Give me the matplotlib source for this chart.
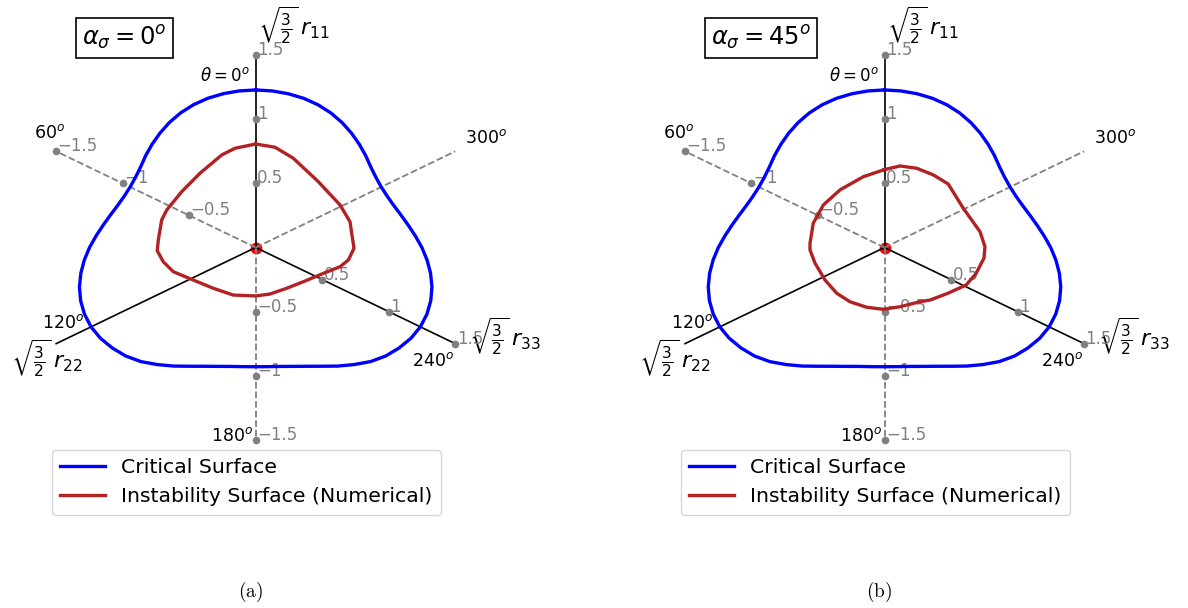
import numpy as np
import matplotlib
matplotlib.use("Agg")
import matplotlib.pyplot as plt

# ---------------------------------------------------------------------------
# Data
# ---------------------------------------------------------------------------
# Lode angle (deg), measured counter-clockwise from the r11 axis
theta_deg = np.arange(0, 360, 5)

# Critical surface radius in the deviatoric plane (same for both cases)
critical_r = [1.229, 1.226, 1.218, 1.205, 1.185, 1.158, 1.125, 1.088, 1.050, 1.013, 0.978, 0.955,
              0.944, 0.945, 0.957, 0.979, 1.008, 1.043, 1.082, 1.120, 1.156, 1.188, 1.213, 1.230,
              1.238, 1.234, 1.219, 1.197, 1.162, 1.115, 1.068, 1.022, 0.986, 0.960, 0.942, 0.933,
              0.930, 0.933, 0.942, 0.960, 0.986, 1.022, 1.068, 1.115, 1.162, 1.197, 1.219, 1.234,
              1.238, 1.230, 1.213, 1.188, 1.156, 1.120, 1.082, 1.043, 1.008, 0.979, 0.957, 0.945,
              0.944, 0.955, 0.978, 1.013, 1.050, 1.088, 1.125, 1.158, 1.185, 1.205, 1.218, 1.226]

# Numerical instability surface, alpha_sigma = 0 deg (deviatoric-plane x, y)
inst0_x = [0.000, -0.135, -0.221, -0.363, -0.482, -0.579, -0.612, -0.634, -0.641, -0.602,
           -0.536, -0.406, -0.276, -0.146, 0.000, 0.093, 0.202, 0.310, 0.430, 0.549,
           0.603, 0.640, 0.625, 0.614, 0.549, 0.408, 0.245, 0.126]
inst0_y = [0.807, 0.774, 0.722, 0.579, 0.435, 0.293, 0.215, 0.059, -0.025, -0.111,
           -0.189, -0.254, -0.318, -0.371, -0.378, -0.363, -0.318, -0.267, -0.207, -0.150,
           -0.098, -0.006, 0.111, 0.201, 0.332, 0.513, 0.696, 0.782]

# Numerical instability surface, alpha_sigma = 45 deg
inst45_x = [0.000, 0.101, 0.210, 0.318, 0.415, 0.513, 0.622, 0.654, 0.648, 0.596,
            0.531, 0.413, 0.296, 0.231, 0.101, -0.008, -0.116, -0.225, -0.311, -0.387,
            -0.452, -0.485, -0.485, -0.464, -0.398, -0.290, -0.138]
inst45_y = [0.608, 0.636, 0.618, 0.566, 0.495, 0.306, 0.123, 0.006, -0.082, -0.203,
            -0.293, -0.357, -0.410, -0.423, -0.462, -0.482, -0.466, -0.423, -0.357, -0.254,
            -0.123, -0.020, 0.033, 0.189, 0.332, 0.449, 0.552]

# Axis ticks
tick_values = [0.5, 1.0, 1.5]
tick_labels_pos = ["0.5", "1", "1.5"]
tick_labels_neg = ["\u22120.5", "\u22121", "\u22121.5"]

axis_length = 1.5
panel_titles = [r"$\alpha_\sigma = 0^o$", r"$\alpha_\sigma = 45^o$"]
panel_captions = [r"$(\mathrm{a})$", r"$(\mathrm{b})$"]
legend_labels = ["Critical Surface", "Instability Surface (Numerical)"]

# ---------------------------------------------------------------------------
# Layout (pixels of the 1188 x 608 canvas)
# ---------------------------------------------------------------------------
W, H = 1188, 608
SX, SY = 153.6, 128.2          # pixels per unit along x and y
CY = 247.5                     # origin row (from top)
panels = [dict(cx=255.7, x0=0, x1=600), dict(cx=884.5, x0=600, x1=1188)]

GRAY = "#808080"


def direction(theta):
    t = np.deg2rad(theta)
    return -np.sin(t), np.cos(t)


def draw_panel(ax, inst_x, inst_y, title):
    ax.axis("off")

    # solid positive axes r11, r22, r33
    for th in (0, 120, 240):
        dx, dy = direction(th)
        ax.plot([0, axis_length * dx], [0, axis_length * dy], color="black", lw=1.2, zorder=3)
    # dashed negative axes
    for th in (60, 180, 300):
        dx, dy = direction(th)
        ax.plot([0, axis_length * dx], [0, axis_length * dy], color=GRAY, lw=1.3,
                ls="--", zorder=3)

    # origin
    ax.plot([0], [0], "o", color="red", ms=7.5, zorder=2)

    # tick dots and labels on r11 / r33 axes (positive and negative)
    for th, labels in ((0, tick_labels_pos), (240, tick_labels_pos),
                       (180, tick_labels_neg), (60, tick_labels_neg)):
        dx, dy = direction(th)
        for v, lab in zip(tick_values, labels):
            ax.plot([v * dx], [v * dy], "o", color=GRAY, ms=4.5, zorder=4)
            ax.text(v * dx + 0.01, v * dy, lab, color=GRAY, fontsize=12,
                    ha="left", va="baseline", zorder=5)

    # surfaces
    th = np.deg2rad(np.append(theta_deg, theta_deg[0]))
    r = np.append(critical_r, critical_r[0])
    ax.plot(-r * np.sin(th), r * np.cos(th), color="blue", lw=2.4, zorder=6,
            label=legend_labels[0], solid_joinstyle="round")
    ax.plot(np.append(inst_x, inst_x[0]), np.append(inst_y, inst_y[0]),
            color="firebrick", lw=2.4, zorder=6, label=legend_labels[1])

    # angle labels
    ax.text(-0.037, 1.334, r"$\theta = 0^o$", fontsize=12, ha="right", va="center")
    ax.text(-1.339, 0.893, r"$60^o$", fontsize=12.5, ha="center", va="center")
    ax.text(-1.255, -0.589, r"$120^o$", fontsize=12.5, ha="center", va="center")
    ax.text(-0.016, -1.470, r"$180^o$", fontsize=12.5, ha="right", va="center")
    ax.text(1.291, -0.885, r"$240^o$", fontsize=12.5, ha="right", va="center")
    ax.text(1.363, 0.858, r"$300^o$", fontsize=12.5, ha="left", va="center")

    # axis names
    ax.text(0.015, 1.728, r"$\sqrt{\frac{3}{2}}\,r_{11}$", fontsize=16, ha="left", va="center")
    ax.text(-1.363, -0.870, r"$\sqrt{\frac{3}{2}}\,r_{22}$", fontsize=16, ha="center", va="center")
    ax.text(1.623, -0.698, r"$\sqrt{\frac{3}{2}}\,r_{33}$", fontsize=16, ha="center", va="center")

    # case label
    ax.text(-1.128, 1.634, title, fontsize=17.5, ha="left", va="center",
            bbox=dict(boxstyle="square,pad=0.25", fc="white", ec="black", lw=1.2))

    ax.legend(loc="upper left", bbox_to_anchor=(-1.326, -1.580),
              bbox_transform=ax.transData, borderaxespad=0, fontsize=14.7,
              handlelength=2.2)


fig = plt.figure(figsize=(W / 100, H / 100), dpi=100)
inst_sets = [(inst0_x, inst0_y), (inst45_x, inst45_y)]
for p, (ix, iy), title, cap in zip(panels, inst_sets, panel_titles, panel_captions):
    ax = fig.add_axes([p["x0"] / W, 0, (p["x1"] - p["x0"]) / W, 1])
    ax.set_xlim((p["x0"] - p["cx"]) / SX, (p["x1"] - p["cx"]) / SX)
    ax.set_ylim((CY - H) / SY, CY / SY)
    draw_panel(ax, ix, iy, title)
    fig.text((p["cx"] - 5.5) / W, 1 - 592 / H, cap, fontsize=14, ha="center", va="center",
             math_fontfamily="cm")

fig.savefig("out.png", dpi=100)
